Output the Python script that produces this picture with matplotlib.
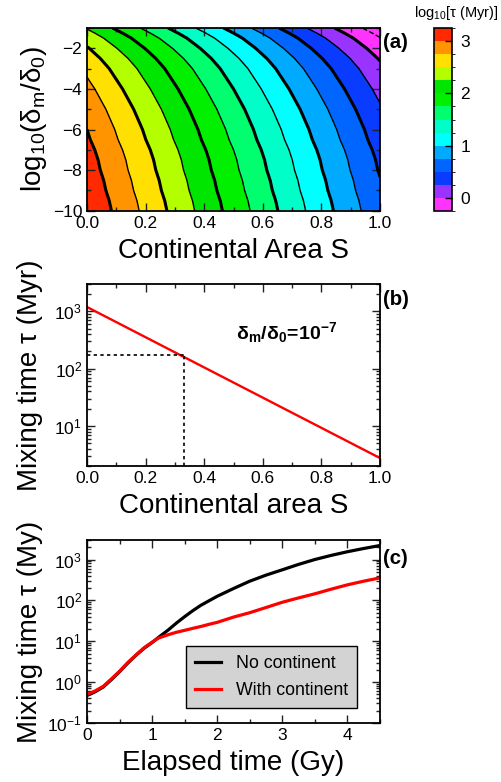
import numpy as np
import matplotlib
matplotlib.use('Agg')
import matplotlib.pyplot as plt
from matplotlib.colors import ListedColormap, BoundaryNorm
from matplotlib.cm import ScalarMappable
from matplotlib.ticker import MultipleLocator, LogLocator, NullFormatter, FixedLocator

plt.rcParams['font.family'] = ['Liberation Sans', 'DejaVu Sans']
plt.rcParams['mathtext.fontset'] = 'custom'
plt.rcParams['mathtext.rm'] = 'Liberation Sans'
plt.rcParams['mathtext.it'] = 'Liberation Sans:italic'
plt.rcParams['mathtext.bf'] = 'Liberation Sans:bold'

# --- (a) log10 tau on a (delta, S) grid: columns at S = 0 and S = 1
log_delta = [-10, -9.5, -9, -8.5, -8, -7.5, -7, -6.5, -6, -5.5,
             -5, -4.5, -4, -3.5, -3, -2.75, -2.5, -2.25, -2, -1.75,
             -1.5, -1.25, -1]
area_cols = [0.0, 1.0]
log_tau_S0 = [3.22, 3.20, 3.17, 3.15, 3.12, 3.10, 3.07, 3.03, 3.00, 2.96,
              2.92, 2.87, 2.82, 2.76, 2.70, 2.66, 2.62, 2.57, 2.52, 2.46,
              2.40, 2.32, 2.23]
log_tau_S1 = [0.58, 0.56, 0.53, 0.51, 0.48, 0.46, 0.43, 0.39, 0.36, 0.32,
              0.28, 0.23, 0.18, 0.12, 0.06, 0.02, -0.02, -0.07, -0.12, -0.18,
              -0.24, -0.32, -0.41]

band_edges = [-0.25, 0.0, 0.25, 0.5, 0.75, 1.0, 1.25, 1.5, 1.75, 2.0,
              2.25, 2.5, 2.75, 3.0, 3.25]
band_colors = ['#ff33ff', '#9933ff', '#0a3cff', '#0066ff', '#00aaff',
               '#00ffff', '#00ffc8', '#00ff6e', '#00f000', '#00e600',
               '#b3ff00', '#ffe000', '#ff9400', '#ff2a00']

# --- (b) tau vs continental area for delta_m/delta_0 = 1e-7
b_area = [0.0, 1.0]
b_tau = [1190.0, 2.75]
b_mark_S = 0.33
b_mark_tau = 170.0

# --- (c) tau through time
t_gy = [0.0, 0.125, 0.25, 0.375, 0.5, 0.625, 0.75, 0.875, 1.0, 1.1, 1.25,
        1.375, 1.5, 1.625, 1.75, 1.875, 2.0, 2.25, 2.5, 2.75, 3.0, 3.25,
        3.5, 3.75, 4.0, 4.25, 4.5]
tau_no_cont = [0.47, 0.58, 0.76, 1.15, 1.8, 2.9, 4.5, 6.7, 9.3, 12.5, 19,
               28, 40, 56, 76, 98, 126, 195, 295, 415, 560, 760,
               1000, 1260, 1550, 1860, 2200]
tau_with_cont = [0.5, 0.61, 0.79, 1.2, 1.85, 3.0, 4.6, 6.9, 9.5, 12, 14.5,
                 16.6, 18.5, 20.7, 23, 26, 29, 39, 50, 67, 90, 115,
                 145, 188, 240, 295, 355]

LABEL_FS = 20
TICK_FS = 12.5


def style_axes(ax):
    ax.tick_params(which='both', direction='in', top=True, right=True,
                   labelsize=TICK_FS, width=1.0, color='#222222')
    ax.tick_params(which='major', length=6)
    ax.tick_params(which='minor', length=3)
    for sp in ax.spines.values():
        sp.set_linewidth(1.3)


fig = plt.figure(figsize=(5.01, 7.82), dpi=100)
W, H = 501.0, 782.0


def add_axes_px(x0, y0, x1, y1):
    return fig.add_axes([x0 / W, 1 - y1 / H, (x1 - x0) / W, (y1 - y0) / H])


# ---------------- panel (a)
ax_a = add_axes_px(87, 28, 380, 210.7)
Z = np.column_stack([log_tau_S0, log_tau_S1])
cmap = ListedColormap(band_colors)
cmap.set_under(band_colors[0])
norm = BoundaryNorm(band_edges, cmap.N)
ax_a.contourf(area_cols, log_delta, Z, levels=band_edges, cmap=cmap,
              norm=norm, extend='min')
lws = [2.2 if abs(v * 2 - round(v * 2)) < 1e-6 else 1.0 for v in band_edges]
ax_a.contour(area_cols, log_delta, Z, levels=band_edges, colors='k',
             linewidths=lws)
ax_a.set_xlim(0, 1)
ax_a.set_ylim(-10, -1)
ax_a.xaxis.set_major_locator(MultipleLocator(0.2))
ax_a.xaxis.set_minor_locator(MultipleLocator(0.1))
ax_a.yaxis.set_major_locator(FixedLocator([-10, -8, -6, -4, -2]))
ax_a.yaxis.set_minor_locator(MultipleLocator(1))
ax_a.set_xticklabels(['%.1f' % v for v in ax_a.get_xticks()])
ax_a.set_yticklabels(['\u221210', '\u22128', '\u22126', '\u22124', '\u22122'])
style_axes(ax_a)
ax_a.set_xlabel('Continental Area S', fontsize=LABEL_FS)
ax_a.set_ylabel(r'$\mathregular{log_{10}(\delta_m/\delta_0)}$', fontsize=LABEL_FS)
ax_a.xaxis.set_label_coords(0.5, -0.15)
ax_a.yaxis.set_label_coords(-0.13, 0.5)

# colour bar
cax = add_axes_px(434, 28, 452, 211)
sm = ScalarMappable(norm=norm, cmap=ListedColormap(band_colors))
cb = fig.colorbar(sm, cax=cax, ticks=[0, 1, 2, 3])
cb.outline.set_linewidth(1.2)
cax.tick_params(direction='in', length=5, width=1.0, labelsize=TICK_FS, pad=6)
fig.text(456 / W, 1 - 13 / H, r'$\mathregular{log_{10}[\tau\ (Myr)]}$',
         fontsize=10.5, ha='center', va='center')

# ---------------- panel (b)
ax_b = add_axes_px(87, 284, 380, 466)
ax_b.semilogy(b_area, b_tau, color='#ff0000', lw=1.7)
ax_b.plot([0, b_mark_S], [b_mark_tau, b_mark_tau], color='k', lw=1.2,
          linestyle=(0, (2, 2)))
ax_b.plot([b_mark_S, b_mark_S], [2, b_mark_tau], color='k', lw=1.2,
          linestyle=(0, (2, 2)))
ax_b.set_xlim(0, 1)
ax_b.set_ylim(2, 3000)
ax_b.xaxis.set_major_locator(MultipleLocator(0.2))
ax_b.xaxis.set_minor_locator(MultipleLocator(0.1))
ax_b.set_xticklabels(['%.1f' % v for v in ax_b.get_xticks()])
ax_b.yaxis.set_minor_locator(LogLocator(base=10, subs=np.arange(2, 10)))
ax_b.yaxis.set_minor_formatter(NullFormatter())
style_axes(ax_b)
ax_b.set_xlabel('Continental area S', fontsize=LABEL_FS)
ax_b.set_ylabel('Mixing time \u03c4 (Myr)', fontsize=LABEL_FS)
ax_b.xaxis.set_label_coords(0.5, -0.15)
ax_b.yaxis.set_label_coords(-0.15, 0.5)
ax_b.text(0.51, 420, r'$\mathbf{\delta_m/\delta_0\!=\!10^{-7}}$', fontsize=14,
          ha='left', va='center')

# ---------------- panel (c)
ax_c = add_axes_px(87, 540, 380, 723)
ax_c.semilogy(t_gy, tau_no_cont, color='k', lw=2.3, label='No continent')
ax_c.semilogy(t_gy, tau_with_cont, color='#ff0000', lw=2.3,
              label='With continent')
ax_c.set_xlim(0, 4.5)
ax_c.set_ylim(0.1, 3000)
ax_c.xaxis.set_major_locator(MultipleLocator(1))
ax_c.xaxis.set_minor_locator(MultipleLocator(0.5))
ax_c.yaxis.set_major_locator(LogLocator(base=10, numticks=10))
ax_c.yaxis.set_minor_locator(LogLocator(base=10, subs=np.arange(2, 10), numticks=10))
ax_c.yaxis.set_minor_formatter(NullFormatter())
style_axes(ax_c)
ax_c.set_xlabel('Elapsed time (Gy)', fontsize=LABEL_FS)
ax_c.set_ylabel('Mixing time \u03c4 (My)', fontsize=LABEL_FS)
ax_c.xaxis.set_label_coords(0.5, -0.15)
ax_c.yaxis.set_label_coords(-0.15, 0.5)
leg = ax_c.legend(loc='lower left', bbox_to_anchor=(0.337, 0.082),
                  borderaxespad=0, fontsize=12.8, fancybox=False,
                  framealpha=1, facecolor='#d3d3d3', edgecolor='k',
                  handlelength=1.5, handletextpad=0.8, labelspacing=0.55,
                  borderpad=0.5)
leg.get_frame().set_linewidth(1.0)

# panel letters
for letter, ypx in (('(a)', 43), ('(b)', 300), ('(c)', 558)):
    fig.text(383 / W, 1 - ypx / H, letter, fontsize=14.7, fontweight='bold',
             ha='left', va='center')

fig.savefig('out.png', dpi=100)
